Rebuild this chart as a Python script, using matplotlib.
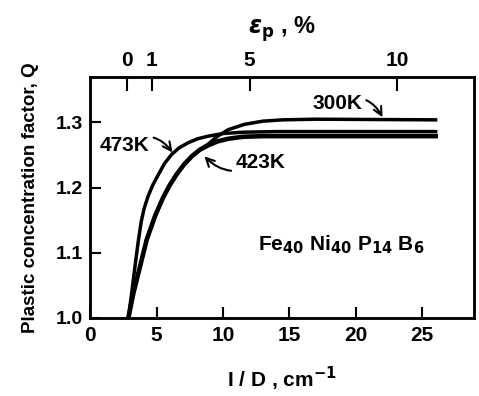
import matplotlib
matplotlib.use("Agg")
import matplotlib.pyplot as plt

# curve data: 1/D (cm^-1) vs plastic concentration factor Q
x_300 = [2.88, 3.26, 3.76, 4.26, 4.9, 5.5, 6.0, 6.5, 7.05, 7.65, 8.25, 8.9, 9.6, 10.4, 11.6, 13.0, 14.5, 17.0, 26.0]
q_300 = [1.0, 1.038, 1.079, 1.12, 1.157, 1.185, 1.204, 1.22, 1.235, 1.248, 1.258, 1.267, 1.279, 1.289, 1.297, 1.302, 1.304, 1.305, 1.304]

x_423 = [2.88, 3.26, 3.76, 4.26, 4.9, 5.5, 6.0, 6.5, 7.05, 7.65, 8.25, 8.9, 9.6, 10.4, 11.5, 13.0, 17.0, 26.0]
q_423 = [1.0, 1.038, 1.079, 1.12, 1.157, 1.185, 1.204, 1.22, 1.235, 1.248, 1.258, 1.265, 1.271, 1.275, 1.278, 1.279, 1.279, 1.279]

x_473 = [2.88, 3.13, 3.38, 3.63, 3.85, 4.07, 4.35, 4.72, 5.14, 5.6, 6.14, 6.7, 7.39, 8.1, 8.9, 10.0, 11.5, 14.0, 20.0, 26.0]
q_473 = [1.0, 1.038, 1.079, 1.118, 1.148, 1.168, 1.186, 1.204, 1.22, 1.237, 1.251, 1.261, 1.269, 1.275, 1.279, 1.283, 1.285, 1.286, 1.286, 1.286]

x_ticks = [0, 5, 10, 15, 20, 25]
y_ticks = [1.0, 1.1, 1.2, 1.3]
y_tick_labels = ["1.0", "1.1", "1.2", "1.3"]
# plastic strain (%) scale on top, placed at matching 1/D positions
strain_labels = ["0", "1", "5", "10"]
strain_at_x = [2.8, 4.66, 12.0, 23.1]

plt.rcParams["font.family"] = ["Liberation Sans", "DejaVu Sans"]
plt.rcParams["font.weight"] = "bold"
plt.rcParams["mathtext.fontset"] = "dejavusans"

fig = plt.figure(figsize=(4.79, 3.96), dpi=100)
ax = fig.add_axes([0.188, 0.197, 0.802, 0.609])

lw = 2.5
ax.plot(x_300, q_300, color="black", lw=lw, solid_joinstyle="round")
ax.plot(x_423, q_423, color="black", lw=lw + 0.8, solid_joinstyle="round")
ax.plot(x_473, q_473, color="black", lw=lw, solid_joinstyle="round")

ax.set_xlim(0, 28.9)
ax.set_ylim(1.0, 1.37)
ax.set_xticks(x_ticks)
ax.set_yticks(y_ticks)
ax.set_yticklabels(y_tick_labels)
ax.tick_params(axis="both", direction="in", length=8, width=1.5, labelsize=15, pad=6)
ax.tick_params(axis="y", labelsize=14, pad=5)
for s in ax.spines.values():
    s.set_linewidth(1.8)

ax.set_xlabel("I / D , cm$^{-1}$", fontsize=15, fontweight="bold", labelpad=14)
ax.set_ylabel("Plastic concentration factor, Q", fontsize=13.5, fontweight="bold",
              labelpad=12,
              family=["Liberation Sans Narrow", "Liberation Sans", "DejaVu Sans"])

top = ax.twiny()
top.set_xlim(ax.get_xlim())
top.set_xticks(strain_at_x)
top.set_xticklabels(strain_labels)
top.tick_params(axis="x", direction="in", length=10, width=1.5, labelsize=15, pad=5)
top.set_xlabel(r"$\epsilon_\mathbf{p}$ , %", fontsize=17, fontweight="bold", labelpad=12)
for s in top.spines.values():
    s.set_linewidth(1.8)

arrow = dict(arrowstyle="->", color="black", lw=1.5, shrinkA=1, shrinkB=0)
ax.annotate("300K", xy=(22.0, 1.308), xytext=(18.6, 1.329), fontsize=15,
            ha="center", va="center",
            arrowprops=dict(arrow, connectionstyle="arc3,rad=-0.5"))
ax.annotate("473K", xy=(6.2, 1.254), xytext=(2.6, 1.265), fontsize=15,
            ha="center", va="center",
            arrowprops=dict(arrow, connectionstyle="arc3,rad=-0.5"))
ax.annotate("423K", xy=(8.6, 1.248), xytext=(12.8, 1.238), fontsize=15,
            ha="center", va="center",
            arrowprops=dict(arrow, connectionstyle="arc3,rad=-0.4"))

ax.text(18.9, 1.112, r"Fe$_{40}$ Ni$_{40}$ P$_{14}$ B$_6$", fontsize=15,
        ha="center", va="center")

fig.savefig("out.png", dpi=100)
